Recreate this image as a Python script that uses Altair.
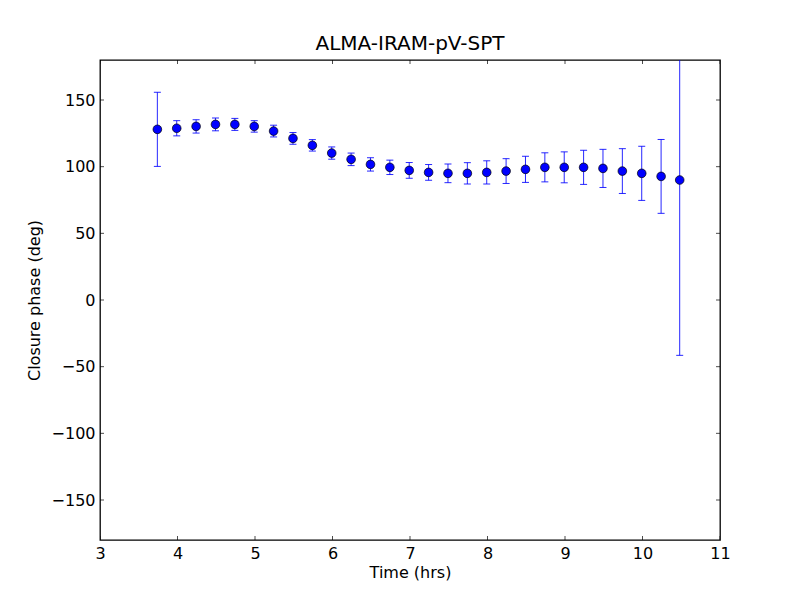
import altair as alt
import pandas as pd

times = [3.74, 3.99, 4.24, 4.49, 4.74, 4.99, 5.24, 5.49, 5.74, 5.99, 6.24, 6.49,
         6.74, 6.99, 7.24, 7.49, 7.74, 7.99, 8.24, 8.49, 8.74, 8.99, 9.24, 9.49,
         9.74, 9.99, 10.24, 10.48]
phases = [128.0, 128.8, 130.2, 131.7, 131.7, 130.2, 126.7, 121.2, 116.0, 110.2,
          105.5, 101.7, 99.5, 97.2, 95.7, 95.0, 95.0, 95.7, 96.7, 98.0, 99.5,
          99.5, 99.5, 98.7, 96.7, 95.0, 92.7, 90.0]
errors = [27.8, 5.7, 5.0, 4.8, 4.5, 4.3, 4.4, 4.4, 4.3, 4.6, 4.7, 5.0, 5.4, 5.9,
          5.9, 7.0, 8.0, 8.7, 9.3, 9.8, 10.9, 11.6, 12.8, 14.3, 16.8, 20.3, 27.7,
          131.5]

x_ticks = [3, 4, 5, 6, 7, 8, 9, 10, 11]
y_ticks = [-150, -100, -50, 0, 50, 100, 150]
x_lim = [3, 11]
y_lim = [-180, 180]

df = pd.DataFrame({"t": times, "cp": phases, "err": errors})
df["lo"] = df["cp"] - df["err"]
df["hi"] = df["cp"] + df["err"]

FONT = "DejaVu Sans"
FS = 16

xs = alt.Scale(domain=x_lim, nice=False, zero=False)
ys = alt.Scale(domain=y_lim, nice=False, zero=False)

x_axis = alt.Axis(values=x_ticks, ticks=False, domain=False, grid=False,
                  labelPadding=5, labelFontSize=FS, labelFont=FONT,
                  labelColor="black", title="Time (hrs)", titleFont=FONT,
                  titleFontSize=FS, titleFontWeight="normal", titleColor="black",
                  titlePadding=3, labelFlush=False, format="d")
y_axis = alt.Axis(values=y_ticks, ticks=False, domain=False, grid=False,
                  labelPadding=5, labelFontSize=FS, labelFont=FONT,
                  labelColor="black", title="Closure phase (deg)", titleFont=FONT,
                  titleFontSize=FS, titleFontWeight="normal", titleColor="black",
                  titlePadding=9, labelFlush=False, format="d")

base = alt.Chart(df)

err_rule = base.mark_rule(color="#0000ff", strokeWidth=1, opacity=0.85, clip=True).encode(
    x=alt.X("t:Q", scale=xs, axis=x_axis),
    y=alt.Y("lo:Q", scale=ys, axis=y_axis),
    y2="hi:Q",
)
cap_lo = base.mark_tick(color="#0000ff", size=7, thickness=1, orient="horizontal", opacity=0.85, clip=True).encode(
    x=alt.X("t:Q", scale=xs), y=alt.Y("lo:Q", scale=ys))
cap_hi = base.mark_tick(color="#0000ff", size=7, thickness=1, orient="horizontal", opacity=0.85, clip=True).encode(
    x=alt.X("t:Q", scale=xs), y=alt.Y("hi:Q", scale=ys))
pts = base.mark_point(filled=True, shape="circle", size=75, fill="#0000ff",
                      stroke="black", strokeWidth=0.7, opacity=1, clip=True).encode(
    x=alt.X("t:Q", scale=xs), y=alt.Y("cp:Q", scale=ys))

# inward tick marks (half of each tick clipped away by the frame)
xt = pd.DataFrame({"v": x_ticks * 2, "edge": [y_lim[0]] * len(x_ticks) + [y_lim[1]] * len(x_ticks)})
yt = pd.DataFrame({"v": y_ticks * 2, "edge": [x_lim[0]] * len(y_ticks) + [x_lim[1]] * len(y_ticks)})
xtick_marks = alt.Chart(xt).mark_tick(color="black", size=8, thickness=1, orient="vertical", clip=True).encode(
    x=alt.X("v:Q", scale=xs), y=alt.Y("edge:Q", scale=ys))
ytick_marks = alt.Chart(yt).mark_tick(color="black", size=8, thickness=1, orient="horizontal", clip=True).encode(
    x=alt.X("edge:Q", scale=xs), y=alt.Y("v:Q", scale=ys))

chart = alt.layer(err_rule, cap_lo, cap_hi, pts, xtick_marks, ytick_marks).properties(
    width=620, height=480,
    title=alt.TitleParams("ALMA-IRAM-pV-SPT", font=FONT, fontSize=20,
                          fontWeight="normal", color="black", offset=6),
    autosize=alt.AutoSizeParams(type="none"),
    padding={"left": 92, "top": 52, "right": 72, "bottom": 52},
).configure(background="white").configure_view(stroke="black", strokeWidth=1.3)

chart.save("out.html", embed_options={"renderer": "svg", "actions": False})
